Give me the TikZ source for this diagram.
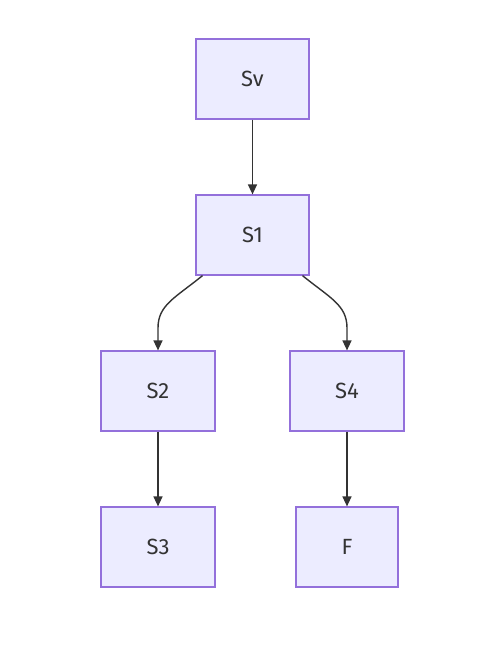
\documentclass[tikz,border=0pt]{standalone}
\usepackage{fontspec}
\setmainfont{Fira Sans}
\usetikzlibrary{arrows.meta}
\definecolor{boxfill}{HTML}{ECECFF}
\definecolor{boxline}{HTML}{9370DB}
\definecolor{edge}{HTML}{333333}
\definecolor{ink}{HTML}{333333}
\begin{document}
\begin{tikzpicture}[x=1pt,y=-1pt,
  stepbox/.style={draw=boxline,fill=boxfill,line width=1.2pt,minimum height=80pt,
    inner sep=0pt,text=ink,font=\fontsize{22}{26}\selectfont},
  flow/.style={draw=edge,line width=1.4pt,-{Triangle[length=10pt,width=9pt]}}]
\useasboundingbox (0,0) rectangle (501,660);
\node[stepbox,minimum width=113pt] (sv) at (252.5,79) {Sv};
\node[stepbox,minimum width=113pt] (s1) at (252.5,235) {S1};
\node[stepbox,minimum width=114pt] (s2) at (158,391) {S2};
\node[stepbox,minimum width=114pt] (s4) at (347,391) {S4};
\node[stepbox,minimum width=114pt] (s3) at (158,547) {S3};
\node[stepbox,minimum width=102pt] (f) at (347,547) {F};
\draw[flow] (sv) -- (s1);
\draw[flow] (s1.south) ++(-50,0) .. controls (175,298) and (158,305) .. (158,328) -- (s2.north);
\draw[flow] (s1.south) ++(50,0) .. controls (330,298) and (347,305) .. (347,328) -- (s4.north);
\draw[flow] (s2) -- (s3);
\draw[flow] (s4) -- (f);
\end{tikzpicture}
\end{document}
